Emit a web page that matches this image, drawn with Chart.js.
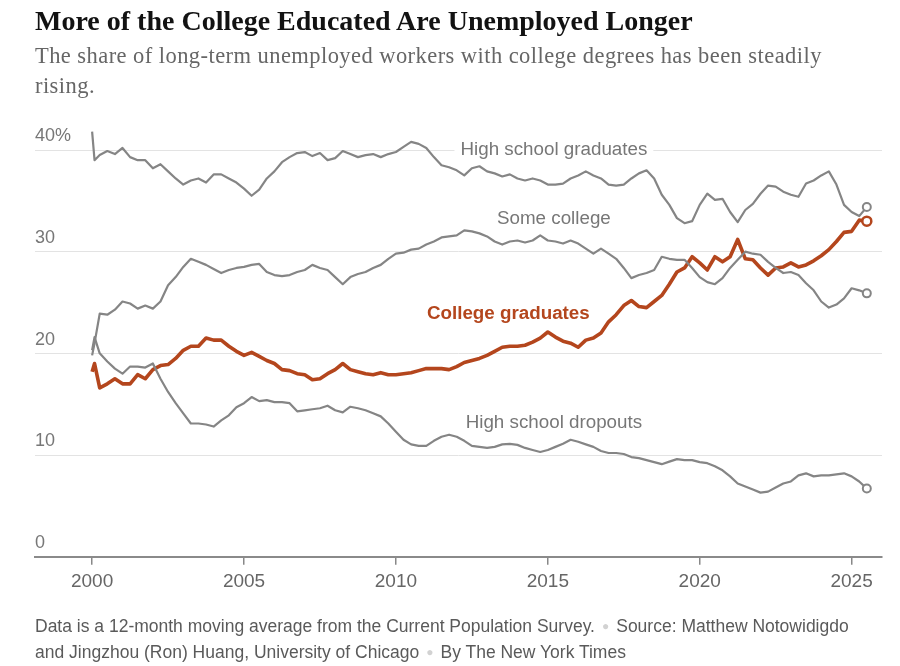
<!DOCTYPE html>
<html>
<head>
<meta charset="utf-8">
<script src="https://cdn.jsdelivr.net/npm/chart.js@4.4.1/dist/chart.umd.min.js"></script>
<style>
  body { margin: 0; background: #fff; }
  #wrap { position: relative; width: 900px; height: 666px; overflow: hidden; }
  #chart { position: absolute; left: 0; top: 0; }
  .title { position: absolute; left: 35px; top: 5px; font: bold 28px "Liberation Serif", serif; color: #121212; white-space: nowrap; }
  .sub { position: absolute; left: 35px; top: 41px; font: 22.5px/30px "Liberation Serif", serif; letter-spacing: 0.44px; color: #666; white-space: nowrap; }
  .foot { position: absolute; left: 35px; top: 613px; font: 17.5px/26px "Liberation Sans", sans-serif; color: #5a5a5a; white-space: nowrap; }
  .dot { color: #d2d2d2; font-size: 12px; padding: 0 7px; vertical-align: 2px; }
</style>
</head>
<body>
<div id="wrap">
  <canvas id="chart" width="900" height="666"></canvas>
  <div class="title">More of the College Educated Are Unemployed Longer</div>
  <div class="sub">The share of long-term unemployed workers with college degrees has been steadily<br>rising.</div>
  <div class="foot">Data is a 12-month moving average from the Current Population Survey.<span class="dot">●</span>Source: Matthew Notowidigdo<br>and Jingzhou (Ron) Huang, University of Chicago<span class="dot">●</span>By The New York Times</div>
</div>
<script>
// quarterly readings, 2000 to mid-2025 (one extra reading early in 2000)
const dates = [2000, 2000.08];
for (let q = 1; q <= 102; q++) dates.push(2000 + q * 0.25);

const highSchoolGrads = [
  41.8, 39.0, 39.5, 39.9, 39.6,
  40.2, 39.3, 39.0, 39.0,
  38.2, 38.6, 37.9, 37.2,
  36.6, 37.0, 37.2, 36.8,
  37.6, 37.6, 37.2, 36.8,
  36.2, 35.5, 36.1, 37.2,
  37.9, 38.8, 39.3, 39.7,
  39.8, 39.4, 39.7, 39.0,
  39.2, 39.9, 39.6, 39.3,
  39.5, 39.6, 39.3, 39.6,
  39.8, 40.3, 40.8, 40.6,
  40.2, 39.3, 38.5, 38.3,
  38.0, 37.5, 38.2, 38.4,
  37.9, 37.7, 37.4, 37.6,
  37.2, 37.0, 37.2, 37.0,
  36.6, 36.6, 36.7, 37.2,
  37.5, 37.9, 37.5, 37.2,
  36.6, 36.5, 36.6, 37.2,
  37.7, 38.0, 37.2, 35.6,
  34.6, 33.3, 32.8, 33.0,
  34.6, 35.7, 35.1, 35.2,
  33.9, 32.9, 34.1, 34.7,
  35.7, 36.5, 36.4, 35.9,
  35.6, 35.4, 36.7, 37.0,
  37.5, 37.9, 36.6, 34.6,
  33.9, 33.5, 34.4
];

const someCollege = [
  19.8, 21.0, 23.9, 23.8, 24.3,
  25.1, 24.9, 24.4, 24.7,
  24.4, 25.1, 26.7, 27.5,
  28.5, 29.3, 29.0, 28.7,
  28.3, 27.9, 28.2, 28.4,
  28.5, 28.7, 28.8, 28.0,
  27.7, 27.6, 27.7, 28.0,
  28.2, 28.7, 28.4, 28.2,
  27.5, 26.8, 27.5, 27.8,
  28.0, 28.4, 28.7, 29.3,
  29.8, 29.9, 30.2, 30.3,
  30.7, 31.0, 31.4, 31.5,
  31.6, 32.1, 32.0, 31.8,
  31.5, 31.0, 30.7, 31.0,
  31.1, 30.9, 31.1, 31.6,
  31.1, 31.0, 30.8, 31.1,
  30.8, 30.3, 29.8, 30.3,
  29.8, 29.3, 28.4, 27.4,
  27.7, 27.9, 28.2, 29.5,
  29.3, 29.2, 29.2, 28.4,
  27.5, 27.0, 26.8, 27.4,
  28.4, 29.2, 30.0, 29.8,
  29.7, 29.0, 28.4, 27.9,
  28.0, 27.7, 26.9, 26.2,
  25.1, 24.5, 24.8, 25.4,
  26.4, 26.2, 25.9
];

const collegeGrads = [
  18.2, 19.0, 16.6, 17.0, 17.5,
  17.0, 17.0, 17.9, 17.5,
  18.4, 18.8, 18.9, 19.5,
  20.3, 20.7, 20.7, 21.5,
  21.3, 21.3, 20.7, 20.2,
  19.8, 20.1, 19.7, 19.3,
  19.0, 18.4, 18.3, 18.0,
  17.9, 17.4, 17.5, 18.0,
  18.4, 19.0, 18.4, 18.2,
  18.0, 17.9, 18.1, 17.9,
  17.9, 18.0, 18.1, 18.3,
  18.5, 18.5, 18.5, 18.4,
  18.7, 19.1, 19.3, 19.5,
  19.8, 20.2, 20.6, 20.7,
  20.7, 20.8, 21.1, 21.5,
  22.1, 21.6, 21.2, 21.0,
  20.6, 21.3, 21.5, 22.0,
  23.1, 23.8, 24.7, 25.2,
  24.6, 24.5, 25.1, 25.7,
  26.8, 28.0, 28.4, 29.5,
  28.9, 28.2, 29.5, 29.0,
  29.5, 31.2, 29.3, 29.2,
  28.4, 27.7, 28.4, 28.5,
  28.9, 28.5, 28.7, 29.1,
  29.6, 30.2, 31.0, 31.9,
  32.0, 33.1, 33.0
];

const dropouts = [
  20.3, 21.6, 20.0, 19.2, 18.5,
  18.0, 18.7, 18.7, 18.6,
  19.0, 17.5, 16.2, 15.1,
  14.1, 13.1, 13.1, 13.0,
  12.8, 13.4, 13.9, 14.7,
  15.1, 15.7, 15.3, 15.4,
  15.2, 15.2, 15.1, 14.3,
  14.4, 14.5, 14.6, 14.85,
  14.4, 14.2, 14.75, 14.6,
  14.4, 14.1, 13.8, 13.1,
  12.3, 11.5, 11.05, 10.9,
  10.9, 11.4, 11.8, 12.0,
  11.8, 11.4, 10.9, 10.8,
  10.7, 10.8, 11.05, 11.1,
  11.0, 10.7, 10.5, 10.3,
  10.5, 10.8, 11.1, 11.5,
  11.3, 11.05, 10.8, 10.4,
  10.2, 10.2, 10.1, 9.8,
  9.7, 9.5, 9.3, 9.1,
  9.35, 9.6, 9.5, 9.5,
  9.3, 9.2, 8.9, 8.5,
  7.9, 7.2, 6.9, 6.6,
  6.3, 6.4, 6.8, 7.2,
  7.4, 8.0, 8.2, 7.9,
  8.0, 8.0, 8.1, 8.2,
  7.9, 7.4, 6.7
];

const xTicks = [2000, 2005, 2010, 2015, 2020, 2025];
const yTicks = [0, 10, 20, 30, 40];

const GREY = '#858585';
const RUST = '#b4461d';

const last = dates.length - 1;
const toPoints = vals => vals.map((v, i) => ({ x: dates[i], y: v }));

function lineSet(label, vals, color, width, r) {
  return {
    label: label,
    data: toPoints(vals),
    borderColor: color,
    borderWidth: width,
    tension: 0,
    fill: false,
    borderJoinStyle: 'round',
    pointRadius: ctx => (ctx.dataIndex === last ? r : 0),
    pointHoverRadius: 0,
    pointBackgroundColor: '#fff',
    pointBorderColor: color,
    pointBorderWidth: width > 3 ? 2.5 : 2
  };
}

// series names written on the plot, anchored in data units
const inlineLabels = [
  { text: 'High school graduates', x: 2015.2, y: 40.0, color: '#777', weight: 'normal' },
  { text: 'Some college', x: 2015.2, y: 33.2, color: '#777', weight: 'normal' },
  { text: 'College graduates', x: 2013.7, y: 23.9, color: RUST, weight: 'bold' },
  { text: 'High school dropouts', x: 2015.2, y: 13.2, color: '#777', weight: 'normal' }
];

const labelPlugin = {
  id: 'inlineLabels',
  beforeDatasetsDraw(chart) {
    const { ctx, scales } = chart;
    ctx.save();
    ctx.textAlign = 'center';
    ctx.textBaseline = 'middle';
    inlineLabels.forEach(l => {
      ctx.font = l.weight + ' 18.8px "Liberation Sans", sans-serif';
      const px = scales.x.getPixelForValue(l.x);
      const py = scales.y.getPixelForValue(l.y);
      const w = ctx.measureText(l.text).width;
      ctx.fillStyle = '#fff';
      ctx.fillRect(px - w / 2 - 6, py - 11, w + 12, 22);
      ctx.fillStyle = l.color;
      ctx.fillText(l.text, px, py);
    });
    ctx.restore();
  }
};

new Chart(document.getElementById('chart'), {
  type: 'line',
  data: {
    datasets: [
      lineSet('High school graduates', highSchoolGrads, GREY, 2.2, 4),
      lineSet('Some college', someCollege, GREY, 2.2, 4),
      lineSet('High school dropouts', dropouts, GREY, 2.2, 4),
      lineSet('College graduates', collegeGrads, RUST, 3.6, 4.5)
    ]
  },
  options: {
    responsive: false,
    animation: false,
    layout: { padding: { left: 35, right: 18, top: 119.5, bottom: 69.3 } },
    plugins: { legend: { display: false }, tooltip: { enabled: false } },
    elements: { line: { clip: false } },
    scales: {
      x: {
        type: 'linear',
        min: 1998.12,
        max: 2026,
        afterBuildTicks: s => { s.ticks = xTicks.map(v => ({ value: v })); },
        afterFit: s => { s.height = 40; },
        grid: { drawOnChartArea: false, drawTicks: true, tickLength: 8, color: '#888', lineWidth: 1.5 },
        border: { display: true, color: '#8a8a8a', width: 2 },
        ticks: {
          color: '#666',
          padding: 6,
          maxRotation: 0,
          font: { size: 19, family: '"Liberation Sans", sans-serif' },
          callback: v => String(v)
        }
      },
      y: {
        min: 0,
        max: 43,
        afterBuildTicks: s => { s.ticks = yTicks.map(v => ({ value: v })); },
        grid: {
          drawTicks: false,
          lineWidth: 1,
          color: c => (c.tick && c.tick.value === 0 ? 'rgba(0,0,0,0)' : '#e3e3e3')
        },
        border: { display: false },
        ticks: {
          mirror: true,
          padding: 0,
          labelOffset: -13.5,
          color: '#777',
          font: { size: 18, family: '"Liberation Sans", sans-serif' },
          callback: v => (v === 40 ? '40%' : String(v))
        }
      }
    }
  },
  plugins: [labelPlugin]
});
</script>
</body>
</html>
